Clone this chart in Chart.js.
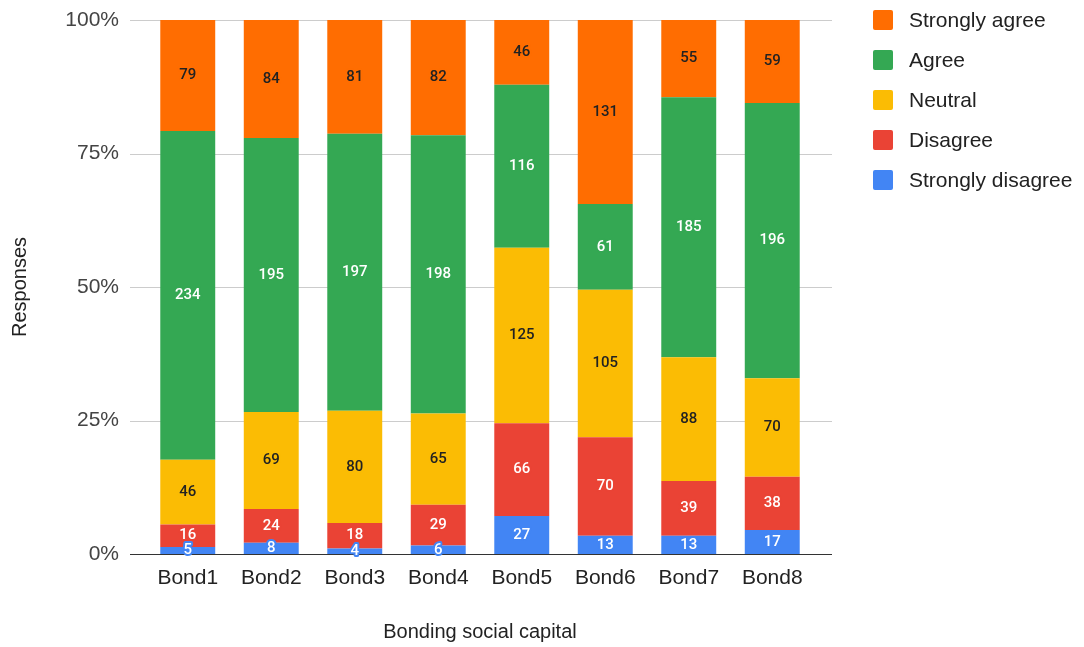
<!DOCTYPE html>
<html>
<head>
<meta charset="utf-8">
<script src="https://cdn.jsdelivr.net/npm/chart.js@4/dist/chart.umd.min.js"></script>
<style>
  body { margin: 0; background: #fff; }
  #wrap { width: 1084px; height: 647px; }
</style>
</head>
<body>
<div id="wrap"><canvas id="bondChart" width="1084" height="647"></canvas></div>
<script>
const categories = ["Bond1", "Bond2", "Bond3", "Bond4", "Bond5", "Bond6", "Bond7", "Bond8"];
const stronglyDisagree = [5, 8, 4, 6, 27, 13, 13, 17];
const disagree = [16, 24, 18, 29, 66, 70, 39, 38];
const neutral = [46, 69, 80, 65, 125, 105, 88, 70];
const agree = [234, 195, 197, 198, 116, 61, 185, 196];
const stronglyAgree = [79, 84, 81, 82, 46, 131, 55, 59];
const yTicks = [0, 25, 50, 75, 100];

const series = [
  { label: "Strongly disagree", counts: stronglyDisagree, color: "#4285f4", text: "#ffffff" },
  { label: "Disagree", counts: disagree, color: "#ea4335", text: "#ffffff" },
  { label: "Neutral", counts: neutral, color: "#fbbc04", text: "#222222" },
  { label: "Agree", counts: agree, color: "#34a853", text: "#ffffff" },
  { label: "Strongly agree", counts: stronglyAgree, color: "#ff6d01", text: "#222222" },
];

const totals = categories.map((c, i) => series.reduce((s, d) => s + d.counts[i], 0));

const FONT = "Arial, 'Liberation Sans', sans-serif";

// grid lines a little wider than the plot, like the original
const gridPlugin = {
  id: "wideGrid",
  beforeDatasetsDraw(chart) {
    const { ctx, chartArea, scales } = chart;
    ctx.save();
    ctx.strokeStyle = "#cccccc";
    ctx.lineWidth = 1;
    yTicks.forEach((t) => {
      if (t === 0) return;
      const y = Math.round(scales.y.getPixelForValue(t)) + 0.5;
      ctx.beginPath();
      ctx.moveTo(chartArea.left - 16, y);
      ctx.lineTo(chartArea.right + 18, y);
      ctx.stroke();
    });
    ctx.restore();
  },
  afterDatasetsDraw(chart) {
    const { ctx, chartArea, scales } = chart;
    ctx.save();
    ctx.strokeStyle = "#333333";
    ctx.lineWidth = 1;
    const y = Math.round(scales.y.getPixelForValue(0)) + 0.5;
    ctx.beginPath();
    ctx.moveTo(chartArea.left - 16, y);
    ctx.lineTo(chartArea.right + 18, y);
    ctx.stroke();
    ctx.restore();
  },
};

// value labels in the middle of each segment
const labelPlugin = {
  id: "segLabels",
  afterDatasetsDraw(chart) {
    const { ctx } = chart;
    ctx.save();
    ctx.font = "500 15px Roboto, " + FONT;
    ctx.textAlign = "center";
    ctx.textBaseline = "middle";
    ctx.lineJoin = "round";
    chart.data.datasets.forEach((ds, di) => {
      const meta = chart.getDatasetMeta(di);
      meta.data.forEach((bar, i) => {
        const txt = String(ds.counts[i]);
        const y = (bar.y + bar.base) / 2;
        ctx.strokeStyle = ds.backgroundColor;
        ctx.lineWidth = 4;
        ctx.strokeText(txt, bar.x, y);
        ctx.fillStyle = ds.labelColor;
        ctx.fillText(txt, bar.x, y);
      });
    });
    ctx.restore();
  },
};

// legend on the right, top item first
const legendPlugin = {
  id: "sideLegend",
  afterDraw(chart) {
    const { ctx, chartArea } = chart;
    const x = chartArea.right + 59;
    ctx.save();
    ctx.font = "21px " + FONT;
    ctx.textBaseline = "middle";
    ctx.textAlign = "left";
    const items = chart.data.datasets.slice().reverse();
    items.forEach((ds, k) => {
      const cy = chartArea.top + k * 40;
      ctx.fillStyle = ds.backgroundColor;
      ctx.beginPath();
      ctx.roundRect(x, cy - 10, 20, 20, 2);
      ctx.fill();
      ctx.fillStyle = "#222222";
      ctx.fillText(ds.label, x + 36, cy + 1);
    });
    ctx.restore();
  },
};

const data = {
  labels: categories,
  datasets: series.map((s) => ({
    label: s.label,
    data: s.counts.map((v, i) => (v / totals[i]) * 100),
    counts: s.counts,
    backgroundColor: s.color,
    labelColor: s.text,
    borderWidth: 0,
    barPercentage: 0.658,
    categoryPercentage: 1,
  })),
};

const config = {
  type: "bar",
  data: data,
  options: {
    responsive: false,
    animation: false,
    layout: { padding: { top: 20, right: 270, bottom: 0, left: 0 } },
    plugins: {
      legend: { display: false },
      tooltip: { enabled: false },
    },
    scales: {
      x: {
        stacked: true,
        grid: { display: false, drawTicks: false },
        border: { display: false },
        ticks: { color: "#222222", font: { family: FONT, size: 21 }, padding: 12 },
        title: {
          display: true,
          text: "Bonding social capital",
          color: "#222222",
          font: { family: FONT, size: 20 },
          padding: { top: 4, bottom: 3 },
        },
        afterFit(scale) {
          scale.height = 93;
          scale.paddingLeft = 0;
          scale.paddingRight = 0;
        },
      },
      y: {
        stacked: true,
        min: 0,
        max: 100,
        afterBuildTicks(scale) { scale.ticks = yTicks.map((v) => ({ value: v })); },
        grid: { display: false, drawTicks: false },
        border: { display: false },
        ticks: {
          color: "#444444",
          font: { family: FONT, size: 21 },
          padding: 27,
          callback: (v) => v + "%",
        },
        title: {
          display: true,
          text: "Responses",
          color: "#222222",
          font: { family: FONT, size: 20 },
          padding: { top: 8, bottom: 4 },
        },
        afterFit(scale) {
          scale.width = 146;
          scale.paddingTop = 0;
          scale.paddingBottom = 0;
        },
      },
    },
  },
  plugins: [gridPlugin, labelPlugin, legendPlugin],
};

new Chart(document.getElementById("bondChart").getContext("2d"), config);
</script>
</body>
</html>
